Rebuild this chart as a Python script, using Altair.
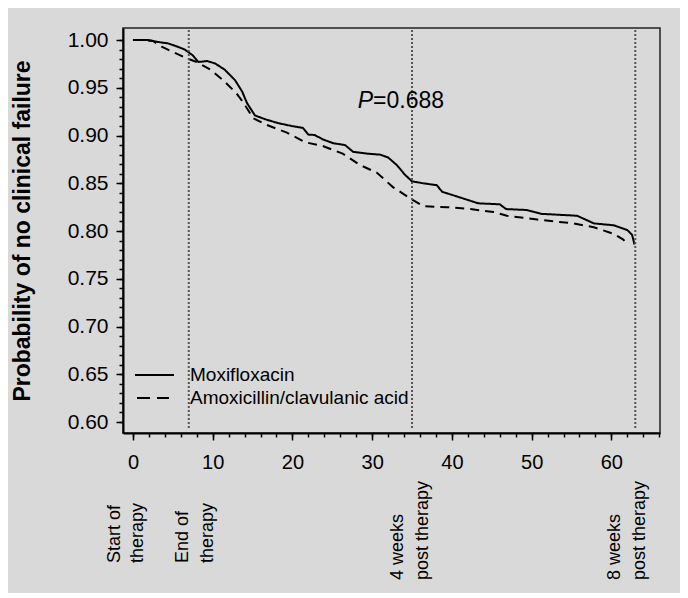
import altair as alt
import pandas as pd

# ---- data ----
drugs = ["Moxifloxacin", "Amoxicillin/clavulanic acid"]

days_moxi = [0, 1.9, 3.1, 4.4, 5.6, 6.5, 7.5, 8.2, 9.3, 10.3, 11.5, 12.8, 13.7, 14.3, 15.3,
             16.6, 18.2, 19.9, 21.3, 22.0, 22.8, 23.8, 25.1, 26.6, 27.6, 29.4, 31.0, 32.0,
             33.1, 34.1, 35.0, 36.4, 38.1, 38.8, 40.7, 43.3, 46.0, 46.8, 49.4, 51.2, 55.7,
             57.8, 60.3, 62.0, 62.6, 62.9]
surv_moxi = [1.000, 1.000, 0.998, 0.9965, 0.993, 0.990, 0.984, 0.977, 0.978, 0.9755, 0.969,
             0.958, 0.946, 0.934, 0.921, 0.917, 0.913, 0.910, 0.908, 0.901, 0.9005, 0.896,
             0.892, 0.890, 0.883, 0.881, 0.880, 0.877, 0.869, 0.859, 0.852, 0.850, 0.848,
             0.841, 0.836, 0.829, 0.828, 0.823, 0.822, 0.818, 0.816, 0.808, 0.806, 0.801,
             0.796, 0.786]

days_amox = [0, 1.5, 2.5, 3.6, 4.9, 6.7, 8.0, 9.7, 11.3, 13.0, 13.8, 15.1, 16.8, 19.3, 21.6,
             23.8, 26.3, 28.5, 30.6, 32.6, 35.0, 36.4, 39.4, 42.3, 45.2, 46.9, 50.7, 55.2,
             57.8, 60.3, 61.5, 62.1]
surv_amox = [1.000, 1.000, 0.999, 0.993, 0.988, 0.981, 0.977, 0.969, 0.958, 0.944, 0.935,
             0.918, 0.911, 0.903, 0.893, 0.889, 0.881, 0.869, 0.861, 0.846, 0.833, 0.826,
             0.825, 0.823, 0.820, 0.816, 0.812, 0.808, 0.804, 0.797, 0.791, 0.785]

event_days = [7, 35, 63]

note_lines = ["Start of", "therapy", "End of", "therapy"]
note_days = [-2.26, 0.63, 6.27, 9.41]
note_lines2 = ["4 weeks", "post therapy", "8 weeks", "post therapy"]
note_days2 = [33.25, 36.4, 60.5, 63.6]

p_label = "P"
p_value = "=0.688"
p_day = 28.2
p_surv = 0.9288

x_major = [0, 10, 20, 30, 40, 50, 60]
x_minor = [v for v in range(0, 67, 2)]
y_major = [0.60, 0.65, 0.70, 0.75, 0.80, 0.85, 0.90, 0.95, 1.00]
y_minor = [round(0.60 + 0.01 * i, 2) for i in range(41)]

# ---- tables ----
curves = pd.concat([
    pd.DataFrame({"day": days_moxi, "surv": surv_moxi, "drug": drugs[0]}),
    pd.DataFrame({"day": days_amox, "surv": surv_amox, "drug": drugs[1]}),
])
events = pd.DataFrame({"day": event_days})
notes1 = pd.DataFrame({"day": note_days, "txt": note_lines})
notes2 = pd.DataFrame({"day": note_days2, "txt": note_lines2})
ptab = pd.DataFrame({"day": [p_day], "surv": [p_surv], "a": [p_label], "b": [p_value]})
legtab = pd.DataFrame({"drug": drugs})

W, H = 537, 405
FONT = "Liberation Sans"
BG = "#d9d9d9"

xs = alt.Scale(domain=[-1.25, 66.1], nice=False, zero=False)
ys = alt.Scale(domain=[0.5885, 1.0126], nice=False, zero=False)
dash_scale = alt.Scale(domain=drugs, range=[[1, 0], [9, 6]])

common_axis = dict(domainColor="black", domainWidth=2, tickColor="black", tickWidth=1.5,
                   grid=False, labelFont=FONT, labelColor="black")

lines = alt.Chart(curves).mark_line(color="black", strokeWidth=2).encode(
    x=alt.X("day:Q", scale=xs, title=None,
            axis=alt.Axis(values=x_major, tickSize=7, labelFontSize=20, labelPadding=12,
                          orient="bottom", **common_axis)),
    y=alt.Y("surv:Q", scale=ys,
            axis=alt.Axis(values=y_major, format=".2f", tickSize=7, labelFontSize=21,
                          labelPadding=8, orient="left",
                          title="Probability of no clinical failure", titleFont=FONT,
                          titleFontSize=23, titleFontWeight="bold", titleColor="black",
                          titleAngle=270, titleBaseline="middle", titleAlign="center",
                          titleX=-101, titleY=H / 2, **common_axis)),
    strokeDash=alt.StrokeDash("drug:N", scale=dash_scale, legend=None),
    order=alt.Order("day:Q"),
)

minor = alt.Chart(curves).mark_point(opacity=0).encode(
    x=alt.X("day:Q", scale=xs, title=None,
            axis=alt.Axis(values=x_minor, tickSize=4, labels=False, domain=False, grid=False,
                          tickColor="black", tickWidth=1.5, orient="bottom")),
    y=alt.Y("surv:Q", scale=ys, title=None,
            axis=alt.Axis(values=y_minor, tickSize=4, labels=False, domain=False, grid=False,
                          tickColor="black", tickWidth=1.5, orient="left")),
)

rules = alt.Chart(events).mark_rule(color="#555555", strokeWidth=2, strokeDash=[2, 2]).encode(
    x=alt.X("day:Q", scale=xs, axis=None),
    y=alt.value(2), y2=alt.value(H - 3),
)

# hand-drawn legend (two rows)
leg_line1 = alt.Chart(legtab).transform_filter(alt.datum.drug == drugs[0]).mark_rule(
    color="black", strokeWidth=2).encode(
    x=alt.value(12), x2=alt.value(51), y=alt.value(347))
leg_line2 = alt.Chart(legtab).transform_filter(alt.datum.drug == drugs[1]).mark_rule(
    color="black", strokeWidth=2, strokeDash=[13, 7]).encode(
    x=alt.value(14), x2=alt.value(46), y=alt.value(370))
leg_txt1 = alt.Chart(legtab).transform_filter(alt.datum.drug == drugs[0]).mark_text(
    font=FONT, fontSize=19, align="left", baseline="middle", color="black").encode(
    x=alt.value(67), y=alt.value(347), text="drug:N")
leg_txt2 = alt.Chart(legtab).transform_filter(alt.datum.drug == drugs[1]).mark_text(
    font=FONT, fontSize=19, align="left", baseline="middle", color="black").encode(
    x=alt.value(67), y=alt.value(370), text="drug:N")

txt_style = dict(font=FONT, fontSize=18, angle=270, align="left", baseline="middle", color="black")
notes_a = alt.Chart(notes1).mark_text(**txt_style).encode(
    x=alt.X("day:Q", scale=xs, axis=None), y=alt.value(535), text="txt:N")
notes_b = alt.Chart(notes2).mark_text(**txt_style).encode(
    x=alt.X("day:Q", scale=xs, axis=None), y=alt.value(552), text="txt:N")

p_a = alt.Chart(ptab).mark_text(font=FONT, fontSize=23, fontStyle="italic", align="left",
                                baseline="alphabetic", color="black").encode(
    x=alt.X("day:Q", scale=xs, axis=None), y=alt.Y("surv:Q", scale=ys, axis=None), text="a:N")
p_b = alt.Chart(ptab).mark_text(font=FONT, fontSize=23, align="left", dx=15.3,
                                baseline="alphabetic", color="black").encode(
    x=alt.X("day:Q", scale=xs, axis=None), y=alt.Y("surv:Q", scale=ys, axis=None), text="b:N")

chart = alt.layer(lines, minor, rules, leg_line1, leg_line2, leg_txt1, leg_txt2,
                  notes_a, notes_b, p_a, p_b).resolve_axis(
    x="independent", y="independent"
).properties(
    width=W, height=H, background=BG,
    autosize=alt.AutoSizeParams(type="none"),
    padding={"left": 115, "top": 20, "right": 20, "bottom": 160},
).configure_view(stroke="#222222", strokeWidth=1.5, fill=BG)

chart.save("out.html", embed_options={"renderer": "svg", "actions": False})
